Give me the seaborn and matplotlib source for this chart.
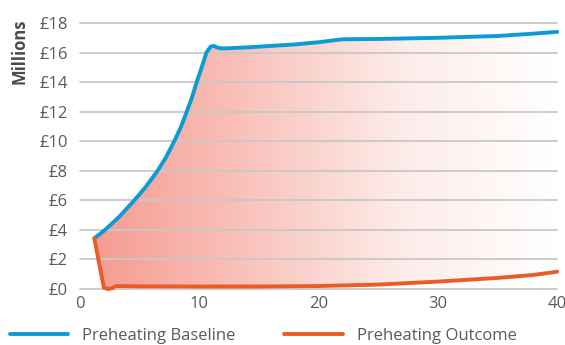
import numpy as np
import pandas as pd
import matplotlib
matplotlib.use("Agg")
from matplotlib import pyplot as plt
from matplotlib.colors import LinearSegmentedColormap
import seaborn as sns

# values (millions of pounds)
years_base = [1.2, 2.1, 3.3, 4.55, 5.5, 6.5, 7.2, 7.9, 8.45, 8.95, 9.4, 9.78, 10.2, 10.6, 10.95, 11.2, 11.6, 12.0, 14, 16, 18, 20, 22, 25, 30, 35, 38, 40]
baseline = [3.43, 4.0, 4.9, 6.0, 6.9, 8.0, 8.9, 10.0, 10.95, 12.0, 13.0, 14.0, 15.0, 16.0, 16.4, 16.45, 16.32, 16.28, 16.35, 16.45, 16.55, 16.7, 16.9, 16.92, 17.0, 17.12, 17.28, 17.4]

years_out = [1.2, 2.0, 2.3, 2.7, 3.0, 5, 10, 15, 20, 25, 30, 35, 38, 40]
outcome = [3.43, 0.1, 0.0, 0.05, 0.2, 0.18, 0.17, 0.17, 0.2, 0.3, 0.5, 0.75, 0.95, 1.17]

blue = '#0b9bd7'
orange = '#eb5c24'
grey_txt = '#5a5a5a'

sns.set_style("white")
plt.rcParams['font.family'] = ['Open Sans', 'DejaVu Sans']

fig = plt.figure(figsize=(5.65, 3.45), dpi=100)
ax = fig.add_axes([0.1416, 0.1623, 0.8446, 0.771])

df_base = pd.DataFrame({'year': years_base, 'value': baseline, 'series': 'Preheating Baseline'})
df_out = pd.DataFrame({'year': years_out, 'value': outcome, 'series': 'Preheating Outcome'})
df = pd.concat([df_base, df_out])

# gradient fill between the two lines
xs = np.linspace(years_base[0], 40, 600)
top = np.interp(xs, years_base, baseline)
bot = np.interp(xs, years_out, outcome)
poly = ax.fill_between(xs, bot, top, color='none', lw=0)
cmap = LinearSegmentedColormap.from_list('fade', ['#f59b90', '#f9c3bc', '#fdece9', '#ffffff'])
grad = np.linspace(0, 1, 256).reshape(1, -1)
img = ax.imshow(grad, extent=[1, 40, 0, 18], aspect='auto', cmap=cmap, zorder=1, origin='lower')
img.set_clip_path(poly.get_paths()[0], transform=ax.transData)

sns.lineplot(data=df, x='year', y='value', hue='series', palette=[blue, orange],
             linewidth=2.8, ax=ax, sort=False, estimator=None, zorder=3)
for ln in ax.get_lines():
    ln.set_clip_on(False)
    ln.set_solid_capstyle('round')
    ln.set_solid_joinstyle('round')

ax.set_xlim(0, 40)
ax.set_ylim(0, 18)
ax.set_xticks([0, 10, 20, 30, 40])
ax.set_yticks(range(0, 19, 2))
ax.set_yticklabels([f'£{v}' for v in range(0, 19, 2)])
ax.grid(axis='y', color='#c8c8c8', lw=1.3)
ax.set_axisbelow(False)
for ln in ax.get_ygridlines():
    ln.set_zorder(2)
    ln.set_clip_on(False)
for s in ax.spines.values():
    s.set_visible(False)
ax.tick_params(length=0, labelsize=12, labelcolor=grey_txt)
ax.tick_params(axis='y', pad=9)
ax.tick_params(axis='x', pad=5)
ax.set_xlabel('')
ax.set_ylabel('')
fig.text(20 / 565, 1 - 51 / 345, 'Millions', rotation=90, ha='center', va='center',
         fontsize=12, fontweight='bold', color='#4a4a4a')

handles, labels = ax.get_legend_handles_labels()
ax.legend(handles, labels, loc='lower left', bbox_to_anchor=(10 / 565, 0.004), bbox_transform=fig.transFigure,
          ncol=2, frameon=False, fontsize=12, handlelength=3.5, handletextpad=0.85,
          borderpad=0, borderaxespad=0, columnspacing=2.9, labelcolor=grey_txt)

fig.savefig('out.png', dpi=100)
